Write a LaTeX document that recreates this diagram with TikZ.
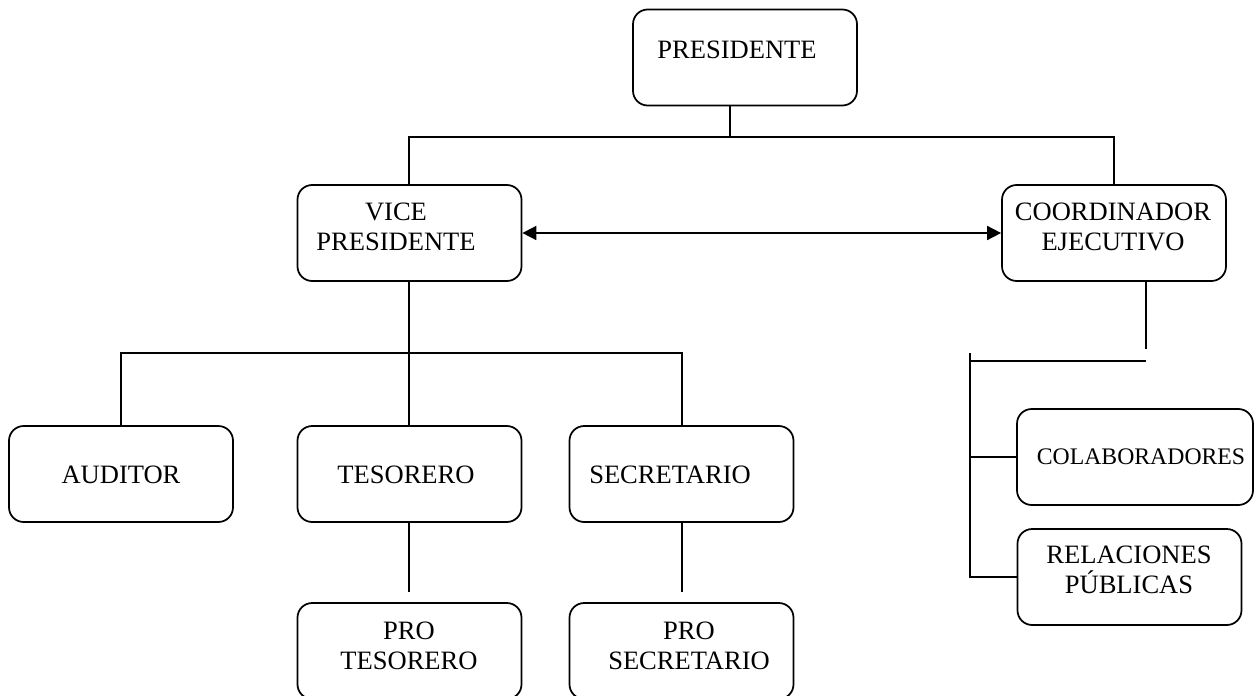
\documentclass[tikz,border=0pt]{standalone}
\usepackage{fontspec}
\setmainfont{Liberation Serif}
\usetikzlibrary{arrows.meta,calc}
\begin{document}
\begin{tikzpicture}[x=0.75pt,y=-0.75pt,
        caja/.style={draw,rounded corners=11pt,line width=1.3pt,minimum width=168pt,minimum height=72pt},
        texto/.style={align=center,inner sep=0pt,font=\fontsize{19.9pt}{22pt}\selectfont},
        linea/.style={line width=1.3pt}]
            \useasboundingbox (0,0) rectangle (1254,696);
            \node[caja] (pres) at (745,57.5) {};
            \node[caja] (vice) at (409.5,233) {};
            \node[caja] (coord) at (1114,233) {};
            \node[caja] (audit) at (121,474) {};
            \node[caja] (teso) at (409.5,474) {};
            \node[caja] (secre) at (681.5,474) {};
            \node[caja] (proteso) at (409.5,651) {};
            \node[caja] (prosecre) at (681.5,651) {};
            \node[caja,minimum width=177pt] (colab) at (1135,457) {};
            \node[caja] (rel) at (1129.5,577) {};
            \node[texto] (pres-t) at (737,50) {PRESIDENTE};
            \node[texto] (vice-t) at (396,227) {VICE\\PRESIDENTE};
            \node[texto] (coord-t) at (1113,227) {COORDINADOR\\EJECUTIVO};
            \node[texto] (audit-t) at (121,475) {AUDITOR};
            \node[texto] (teso-t) at (406,475) {TESORERO};
            \node[texto] (secre-t) at (670,475) {SECRETARIO};
            \node[texto] (proteso-t) at (409,646) {PRO\\TESORERO};
            \node[texto] (prosecre-t) at (689,646) {PRO\\SECRETARIO};
            \node[texto,font=\fontsize{17.8pt}{21pt}\selectfont] (colab-t) at (1141,457) {COLABORADORES};
            \node[texto] (rel-t) at (1129,570) {RELACIONES\\PÚBLICAS};
            \coordinate (j1) at (730,137);
            \coordinate (j2) at (409,353);
            \coordinate (j3) at (682,353);
            \coordinate (c1) at (1146,349);
            \coordinate (c2) at (970,361);
            \coordinate (c3) at (970,353);
            \draw[linea] (j1 |- pres.south) -- (j1);
            \draw[linea] (j2 |- vice.north) |- (j1) -| (coord.north);
            \draw[linea,{Triangle[length=10.5pt,width=10.5pt]}-{Triangle[length=10.5pt,width=10.5pt]}] (vice.east) -- (coord.west);
            \draw[linea] (j2 |- vice.south) -- (j2 |- teso.north);
            \draw[linea] (audit.north) |- (j2) -- (j3) -- (j3 |- secre.north);
            \draw[linea,shorten >=7.5pt] (j2 |- teso.south) -- (j2 |- proteso.north);
            \draw[linea,shorten >=7.5pt] (j3 |- secre.south) -- (j3 |- prosecre.north);
            \draw[linea] (c1 |- coord.south) -- (c1);
            \draw[linea] (c2) -- (c1 |- c2);
            \draw[linea] (c3) |- (rel.west);
            \draw[linea] (colab.west -| c3) -- (colab.west);
        \end{tikzpicture}
\end{document}
